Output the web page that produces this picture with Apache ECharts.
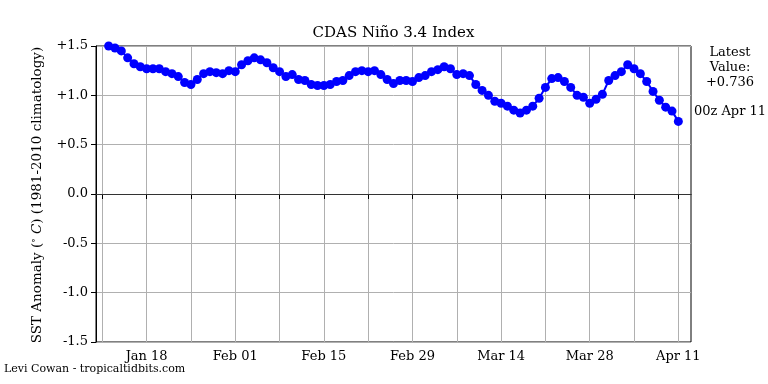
<!DOCTYPE html>
<html>
<head>
<meta charset="utf-8">
<script src="https://cdn.jsdelivr.net/npm/echarts@6/dist/echarts.min.js"></script>
<style>html,body{margin:0;padding:0;background:#fff}#c{width:768px;height:384px}</style>
</head>
<body>
<div id="c"></div>
<script>
// Day index 0 = 2024-01-11; axis spans day -1 .. 93
const startDay = 1;   // first data point = Jan 12
const anomaly = [
  1.50,1.48,1.45,1.38,1.32,1.29,1.27,1.27,1.27,1.24,
  1.22,1.19,1.13,1.11,1.16,1.22,1.24,1.23,1.22,1.25,
  1.24,1.31,1.35,1.38,1.36,1.33,1.28,1.24,1.19,1.21,
  1.16,1.15,1.11,1.10,1.10,1.11,1.14,1.15,1.20,1.24,
  1.25,1.24,1.25,1.21,1.16,1.12,1.15,1.15,1.14,1.18,
  1.20,1.24,1.26,1.29,1.27,1.21,1.22,1.20,1.11,1.05,
  1.00,0.94,0.92,0.89,0.85,0.82,0.85,0.89,0.97,1.08,
  1.17,1.18,1.14,1.08,1.00,0.98,0.92,0.96,1.01,1.15,
  1.20,1.24,1.31,1.27,1.22,1.14,1.04,0.95,0.88,0.84,
  0.736
];
const tickLabels = ['Jan 18','Feb 01','Feb 15','Feb 29','Mar 14','Mar 28','Apr 11'];
const yTicks = ['-1.5','-1.0','-0.5','0.0','+0.5','+1.0','+1.5'];
const zeroLine = [0];
const titleText = 'CDAS Niño 3.4 Index';
const latestText = 'Latest\nValue:\n+0.736';
const latestDate = '00z Apr 11';
const credit = 'Levi Cowan - tropicaltidbits.com';

const months = ['Jan','Feb','Mar','Apr','May','Jun','Jul','Aug','Sep','Oct','Nov','Dec'];
const axisMin = -1, axisMax = 93;
const cats = [], days = [], vals = [];
for (let d = axisMin; d <= axisMax; d++) {
  const dt = new Date(Date.UTC(2024, 0, 11 + d));
  cats.push(months[dt.getUTCMonth()] + ' ' + String(dt.getUTCDate()).padStart(2, '0'));
  days.push(d);
  const i = d - startDay;
  vals.push(i >= 0 && i < anomaly.length ? anomaly[i] : null);
}
const labelSet = new Set(tickLabels);
const isTick = (idx) => ((days[idx] % 7) + 7) % 7 === 0;

const FONT = '"DejaVu Serif", serif';
const chart = echarts.init(document.getElementById('c'), null, {renderer: 'canvas'});
chart.setOption({
  animation: false,
  backgroundColor: '#fff',
  grid: {left: 96, top: 46, width: 595, height: 296, show: true, borderColor: '#000', borderWidth: 1, backgroundColor: 'transparent'},
  xAxis: {
    type: 'category', data: cats, boundaryGap: false,
    axisLine: {show: true, lineStyle: {color: '#000', width: 1}},
    axisTick: {show: true, interval: (i) => isTick(i), length: 5, lineStyle: {color: '#000'}},
    axisLabel: {interval: (i, v) => labelSet.has(v), color: '#000', fontFamily: FONT, fontSize: 13, margin: 8},
    splitLine: {show: true, interval: (i) => isTick(i), lineStyle: {color: '#b0b0b0', width: 1}}
  },
  yAxis: {
    type: 'value', min: -1.5, max: 1.5, interval: 0.5,
    axisLine: {show: true, lineStyle: {color: '#000'}},
    axisTick: {show: true, length: 5, lineStyle: {color: '#000'}},
    axisLabel: {color: '#000', fontFamily: FONT, fontSize: 13, margin: 8,
      formatter: (v) => yTicks[Math.round((v + 1.5) / 0.5)]},
    splitLine: {show: true, lineStyle: {color: '#b0b0b0', width: 1}}
  },
  series: [{
    type: 'line', data: vals, connectNulls: false,
    symbol: 'circle', symbolSize: 9, showSymbol: true, showAllSymbol: true,
    lineStyle: {color: '#0000ff', width: 2},
    itemStyle: {color: '#0000ff'},
    clip: true,
    z: 5,
    markLine: {
      silent: true, symbol: ['none', 'none'], animation: false,
      label: {show: false},
      lineStyle: {color: '#333333', width: 1.2, type: 'solid', opacity: 1},
      data: zeroLine.map(v => ({yAxis: v}))
    }
  }],
  graphic: [
    {type: 'text', x: 393.5, y: 26, style: {text: titleText, font: '15px ' + FONT, fill: '#000', align: 'center'}},
    {type: 'text', x: 730, y: 45, style: {text: latestText, font: '13px ' + FONT, fill: '#000', align: 'center', lineHeight: 15}},
    {type: 'text', x: 730, y: 105, style: {text: latestDate, font: '13px ' + FONT, fill: '#000', align: 'center'}},
    {type: 'text', x: 4, y: 364, style: {text: credit, font: '11px ' + FONT, fill: '#000'}},
    {type: 'text', x: 37, y: 195, rotation: Math.PI / 2,
      style: {text: '{a|SST Anomaly (}{s|∘}{i| C}{a|) (1981-2010 climatology)}',
        align: 'center', verticalAlign: 'middle',
        rich: {a: {font: '13.5px ' + FONT, fill: '#000'},
               s: {font: '9px ' + FONT, fill: '#000', verticalAlign: 'top', padding: [0,0,6,0]},
               i: {font: 'italic 13.5px ' + FONT, fill: '#000'}}}}
  ]
});
</script>
</body>
</html>
